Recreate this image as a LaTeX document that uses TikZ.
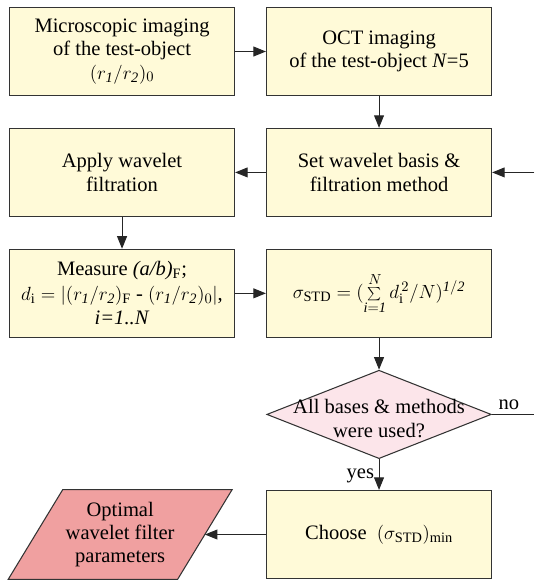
\documentclass[tikz,border=0pt]{standalone}
\usepackage{fontspec}
\setmainfont{Liberation Serif}
\usetikzlibrary{arrows.meta,positioning,calc,shapes.geometric,backgrounds}
\definecolor{boxfill}{HTML}{FFFAD8}
\definecolor{decfill}{HTML}{FCE5EA}
\definecolor{outfill}{HTML}{F0A0A0}

\begin{document}
\begin{tikzpicture}[node distance=24pt and 23.25pt,font=\fontsize{15.5}{17.5}\selectfont]
\tikzset{
  proc/.style={draw=black!80,line width=0.8pt,fill=boxfill,align=center,minimum width=170pt,minimum height=66.5pt,inner sep=2pt},
  dec/.style={diamond,draw=black!80,line width=0.8pt,fill=decfill,minimum width=169.5pt,minimum height=66.75pt,inner sep=0pt},
  outp/.style={align=center,minimum width=168.75pt,minimum height=67.5pt,inner sep=0pt},
  arr/.style={-{Triangle[length=9.5pt,width=7.5pt]},line width=0.8pt,draw=black!85}
}
\node(mic)[proc]{Microscopic imaging\\of the test-object\\$(r_{\mathit 1}/r_{\mathit 2})_0$};
\node(oct)[proc,right=of mic]{OCT imaging\\of the test-object \textit{N}=5};
\node(set)[proc,below=of oct]{Set wavelet basis \&\\filtration method};
\node(app)[proc,below=of mic]{Apply wavelet\\filtration};
\node(mea)[proc,below=of app]{Measure \textit{(a/b)}$_\mathrm{F}$;\\[1pt]$d_\mathrm{i}=|(r_{\mathit 1}/r_{\mathit 2})_\mathrm{F}$ - $(r_{\mathit 1}/r_{\mathit 2})_0|$,\\[1pt]\textit{i=1..N}};
\node(std)[proc,right=of mea]{$\sigma_\mathrm{STD}=(\sum\limits_{\mathit{i=1}}^{N}d_\mathrm{i}^{\,2}/N)^{\mathit{1/2}}$};
\node(used)[dec,below=of std]{\makebox[0pt]{\raisebox{-8.4pt}[0pt][0pt]{\begin{tabular}{@{}c@{}}All bases \& methods\\were used?\end{tabular}}}};
\node(cho)[proc,below=23.25pt of used]{Choose\enspace$(\sigma_\mathrm{STD})_\mathrm{min}$};
\node(opt)[outp,left=25.5pt of cho]{Optimal\\wavelet filter\\parameters};
% parallelogram behind the output text
\begin{scope}[on background layer]
\filldraw[draw=black!80,line width=0.8pt,fill=outfill]($(opt.north west)+(41.25pt,0)$)--(opt.north east)--($(opt.south east)+(-41.25pt,0)$)--(opt.south west)--cycle;
\end{scope}
\coordinate(optin)at($(opt.east)+(-20.6pt,0)$);
% frame and free ends at the right edge
\path[use as bounding box]($(mic.north west)+(-6.75pt,5.25pt)$)coordinate(tl)rectangle++(403.5pt,-435pt);
\coordinate(tr)at($(tl)+(403.5pt,0)$);
\coordinate(loopin)at(set.east-|tr);
\coordinate(loopout)at(used.east-|tr);
\draw[arr](mic)--(oct); \draw[arr](oct)--(set); \draw[arr](set)--(app); \draw[arr](app)--(mea);
\draw[arr](mea)--(std); \draw[arr](std)--(used); \draw[arr](cho)--(optin);
\draw[arr](used)--node[left,pos=0.55]{yes}(cho);
\draw[arr](loopin)--(set);
\draw[line width=0.8pt,draw=black!85](used.east)--node[above,pos=0.4]{no}(loopout);
\end{tikzpicture}
\end{document}
